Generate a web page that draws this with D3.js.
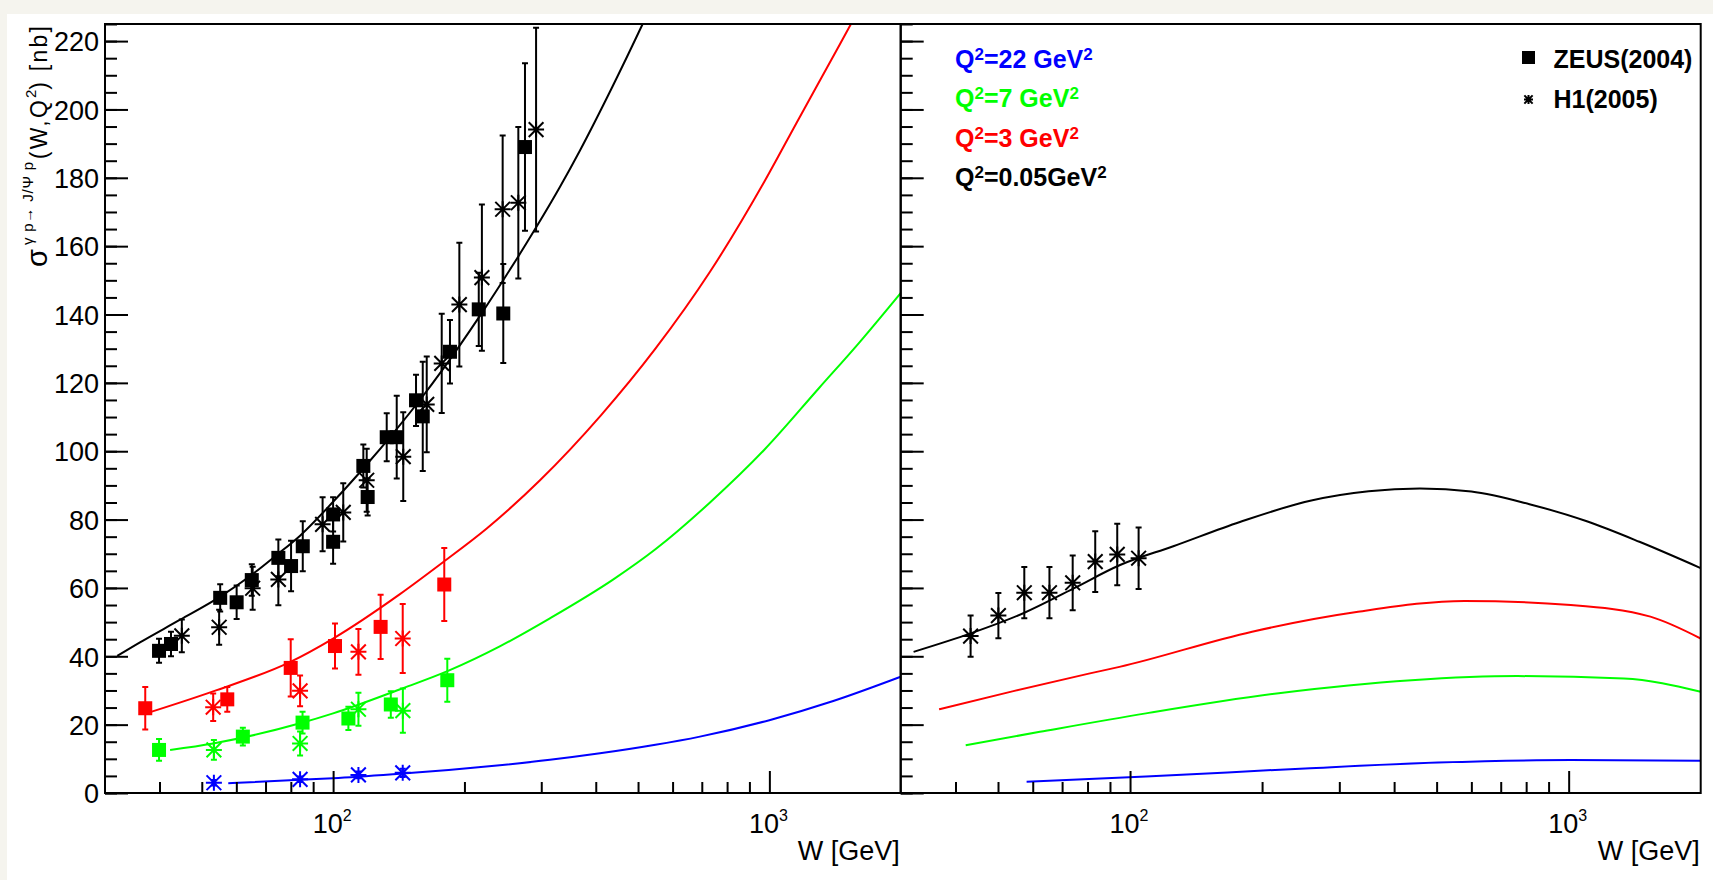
<!DOCTYPE html>
<html>
<head>
<meta charset="utf-8">
<title>J/Psi production cross section</title>
<script src="https://d3js.org/d3.v7.min.js"></script>
<style>
  body { margin: 0; background: #f5f4ee; }
  svg { display: block; font-family: "Liberation Sans", Arial, sans-serif; }
</style>
</head>
<body>
<div id="chart"></div>
<script>
// ---- axis settings ----
var wRange = [30, 2000];
var sigmaRange = [0, 225];
var yMajorTicks = [0, 20, 40, 60, 80, 100, 120, 140, 160, 180, 200, 220];
var xMajorTicks = [100, 1000];
var xMajorExp = ["2", "3"];
var xMinorTicks = [40, 50, 60, 70, 80, 90, 200, 300, 400, 500, 600, 700, 800, 900];

// ---- model curves, left panel: [W, sigma] ----
var curveL_q005 = [[32,40.1],[36,44.0],[44.6,50.7],[55,57.4],[65,63.8],[74,69.5],[84,75.3],[100,85.2],[119,95.9],[137,105.1],[161,116.3],[195,130.9],[217,139.6],[245,149.9],[264,156.4],[293,165.8],[331,177.3],[368,188],[435,206.2],[511,224.7],[560,235.6]];
var curveL_q3 = [[38.4,23.8],[54.1,30.1],[79.6,38.3],[100,45.2],[142.3,58.2],[178.9,67.6],[225,77.4],[298,91.5],[411,110.5],[548,130],[731,152.5],[975,179],[1159,196.5],[1450,219],[1600,229]];
var curveL_q7 = [[42.3,12.6],[53.1,14.5],[84,20.4],[100,23.3],[142,30.3],[184,35.8],[241,42.9],[314,51.1],[439,62.5],[548,71.3],[731,85],[975,100.5],[1300,118.5],[1600,131.5],[2000,146.3]];
var curveL_q22 = [[57.5,2.85],[84,3.85],[100,4.3],[142,5.6],[184,6.7],[241,8.1],[314,9.7],[409,11.6],[548,14.1],[693,16.5],[1000,21.3],[1401,26.9],[2000,34.0]];

// ---- model curves, right panel ----
var curveR_q005 = [[32.1,41.3],[43.3,46.7],[57.1,52.6],[74.2,59.8],[94.9,66.7],[125.5,72.2],[178,79.3],[259,85.6],[350,88.3],[458,89.1],[600,88.2],[814,84.5],[1100,79.5],[1450,73.5],[2000,65.8]];
var curveR_q3 = [[36.7,24.5],[54.2,29.8],[81,35.0],[94.6,36.9],[189.8,47.2],[331,53],[579,56.2],[1011,55],[1536,51.6],[2000,45.2]];
var curveR_q7 = [[42.2,14],[62.3,17.9],[108.7,23.3],[218.3,29.2],[438,33],[765,34.2],[1336,33.5],[2000,29.6]];
var curveR_q22 = [[58.1,3.3],[108.7,4.8],[250.8,7.2],[503.6,8.9],[1011,9.65],[2000,9.45]];

// ---- data points: [W, sigma, error] ----
var zeus_q005 = [[39.9,41.6,3.5],[42.5,43.6,3.6],[55.1,57.1,4.0],[60.1,55.8,4.9],[65.1,62.3,4.6],[74.9,68.8,5.4],[80.1,66.4,7.4],[85.2,72.2,7.3],[100,81.5,5.0],[100,73.5,6.4],[117.3,95.7,6.3],[120,86.6,5.4],[132.7,104.1,7.0],[139.9,104.1,12.1],[154.9,114.9,7.5],[160.5,110.2,16],[185.3,129.1,9.3],[215.7,141.5,10.7],[245.5,140.3,14.5],[275.3,189.0,24.5]];
var h1_q005 = [[45.0,46.0,4.8],[54.8,48.5,5.1],[65.4,59.9,6.3],[74.9,62.5,7.6],[94.6,78.6,7.9],[105.5,82.1,8.5],[119.4,91.5,9.2],[144.8,98.4,13],[163.9,113.7,14],[177.4,125.7,14.5],[194.7,142.9,18.1],[219.3,150.8,21.4],[244.7,170.8,21.6],[265.8,172.7,22.2],[291.9,194.1,29.8]];
var zeus_q3 = [[37.1,24.8,6.2],[57.2,27.4,3.6],[79.95,36.6,8.4],[101,43.0,6.6],[128.5,48.6,9.4],[179.8,61.0,10.7]];
var h1_q3 = [[53.1,25.1,4.0],[84.0,29.9,4.5],[114.3,41.3,6.7],[144.4,45.2,10.1]];
var zeus_q7 = [[39.9,12.6,3.2],[62.1,16.5,2.6],[85.1,20.6,3.2],[108.4,21.8,3.4],[135.6,25.9,3.9],[182.7,33.0,6.3]];
var h1_q7 = [[53.3,12.6,2.9],[84.0,14.5,3.5],[114.3,24.5,4.8],[144.5,24.1,6.5]];
var h1_q22 = [[53.3,3.0,0.8],[84.0,4.0,0.8],[114.3,5.3,1.0],[144.4,5.9,1.2]];
var h1_q005_right = [[43.3,45.9,6.0],[50.1,51.9,6.6],[57.4,58.6,7.5],[65.5,58.6,7.5],[74.0,61.5,8.0],[83.3,67.7,8.9],[93.5,69.8,9.0],[104.6,68.7,9.0]];

// ---- legend ----
var legendQ2 = [["22 GeV", "#0000ff"], ["7 GeV", "#00ff00"], ["3 GeV", "#ff0000"], ["0.05GeV", "#000000"]];
var legendSets = [["ZEUS(2004)", "square"], ["H1(2005)", "star"]];

var BLACK = "#000000", RED = "#ff0000", GREEN = "#00ff00", BLUE = "#0000ff";

var panels = [
  { x0: 105, x1: 900.7, labels: true,
    curves: [[curveL_q22, BLUE], [curveL_q7, GREEN], [curveL_q3, RED], [curveL_q005, BLACK]],
    points: [[zeus_q005, BLACK, "square"], [h1_q005, BLACK, "star"],
             [zeus_q3, RED, "square"], [h1_q3, RED, "star"],
             [zeus_q7, GREEN, "square"], [h1_q7, GREEN, "star"],
             [h1_q22, BLUE, "star"]] },
  { x0: 900.7, x1: 1700.7, labels: false,
    curves: [[curveR_q22, BLUE], [curveR_q7, GREEN], [curveR_q3, RED], [curveR_q005, BLACK]],
    points: [[h1_q005_right, BLACK, "star"]] }
];

var yTop = 24, yBot = 793;

var svg = d3.select("#chart").append("svg")
    .attr("width", 1713).attr("height", 880);

svg.append("rect").attr("width", 1713).attr("height", 880).attr("fill", "#f5f4ee");
svg.append("rect").attr("x", 7).attr("y", 14).attr("width", 1706).attr("height", 866).attr("fill", "#ffffff");

function starPath(cx, cy, r) {
  var d = r * 0.92;
  return "M" + (cx - r) + "," + cy + "H" + (cx + r) +
         "M" + cx + "," + (cy - r) + "V" + (cy + r) +
         "M" + (cx - d) + "," + (cy - d) + "L" + (cx + d) + "," + (cy + d) +
         "M" + (cx - d) + "," + (cy + d) + "L" + (cx + d) + "," + (cy - d);
}

panels.forEach(function (p, i) {
  var x = d3.scaleLog().domain(wRange).range([p.x0, p.x1]);
  var y = d3.scaleLinear().domain(sigmaRange).range([yBot, yTop]);
  var g = svg.append("g");

  var clipId = "clip" + i;
  svg.append("clipPath").attr("id", clipId)
    .append("rect").attr("x", p.x0).attr("y", yTop)
    .attr("width", p.x1 - p.x0).attr("height", yBot - yTop);

  var line = d3.line()
      .x(function (d) { return x(d[0]); })
      .y(function (d) { return y(d[1]); })
      .curve(d3.curveMonotoneX);

  // model curves
  g.append("g").attr("clip-path", "url(#" + clipId + ")")
    .selectAll("path").data(p.curves).enter().append("path")
    .attr("d", function (c) { return line(c[0]); })
    .attr("fill", "none")
    .attr("stroke", function (c) { return c[1]; })
    .attr("stroke-width", 2);

  // measurements
  p.points.forEach(function (s) {
    var sg = g.append("g").attr("stroke", s[1]).attr("fill", s[1]);
    var pts = sg.selectAll("g.pt").data(s[0]).enter().append("g").attr("class", "pt");
    pts.append("path")
      .attr("d", function (d) {
        var cx = x(d[0]), y1 = y(d[1] + d[2]), y2 = y(d[1] - d[2]);
        return "M" + cx + "," + y1 + "V" + y2 +
               "M" + (cx - 3) + "," + y1 + "H" + (cx + 3) +
               "M" + (cx - 3) + "," + y2 + "H" + (cx + 3);
      })
      .attr("stroke-width", 2).attr("fill", "none");
    if (s[2] === "square") {
      pts.append("rect")
        .attr("x", function (d) { return x(d[0]) - 7; })
        .attr("y", function (d) { return y(d[1]) - 7; })
        .attr("width", 14).attr("height", 14)
        .attr("stroke", "none");
    } else {
      pts.append("path")
        .attr("d", function (d) { return starPath(x(d[0]), y(d[1]), 8); })
        .attr("stroke-width", 2).attr("fill", "none");
    }
  });

  // y axis ticks (inside) with labels on the left panel only
  var yAxis = d3.axisLeft(y).tickValues(yMajorTicks).tickSize(-23).tickPadding(6)
      .tickFormat(p.labels ? d3.format("d") : function () { return ""; });
  var ya = svg.append("g").attr("transform", "translate(" + p.x0 + ",0)").call(yAxis);
  var yMinor = d3.axisLeft(y).tickValues(d3.range(0, 226, 5)).tickSize(-12).tickFormat("");
  var ym = svg.append("g").attr("transform", "translate(" + p.x0 + ",0)").call(yMinor);

  // x axis ticks (pointing up)
  var xAxis = d3.axisBottom(x).tickValues(xMajorTicks).tickSize(-22).tickFormat("");
  var xa = svg.append("g").attr("transform", "translate(0," + yBot + ")").call(xAxis);
  var xMinor = d3.axisBottom(x).tickValues(xMinorTicks).tickSize(-11).tickFormat("");
  var xm = svg.append("g").attr("transform", "translate(0," + yBot + ")").call(xMinor);

  [ya, ym, xa, xm].forEach(function (a) {
    a.select(".domain").remove();
    a.selectAll("line").attr("stroke", "#000").attr("stroke-width", 2);
  });
  ya.selectAll("text").attr("font-size", 27).attr("dy", "0.36em").attr("fill", "#000")
    .attr("font-family", "Liberation Sans, Arial, sans-serif");

  // 10^n labels
  var lab = svg.append("g");
  xMajorTicks.forEach(function (t, k) {
    var txt = lab.append("text").attr("x", x(t) - 1).attr("y", 833)
      .attr("text-anchor", "middle").attr("font-size", 27);
    txt.append("tspan").text("10");
    txt.append("tspan").attr("font-size", 16).attr("dy", -12).text(xMajorExp[k]);
  });

  // x title
  svg.append("text").attr("x", p.x1 - 1).attr("y", 860)
    .attr("text-anchor", "end").attr("font-size", 27).text("W [GeV]");

  // frame
  svg.append("rect").attr("x", p.x0).attr("y", yTop)
    .attr("width", p.x1 - p.x0).attr("height", yBot - yTop)
    .attr("fill", "none").attr("stroke", "#000").attr("stroke-width", 2);
});

// y axis title
var yt = svg.append("text").attr("transform", "translate(46.5,24) rotate(-90)")
  .attr("text-anchor", "end");
yt.append("tspan").attr("font-size", 29).text("σ");
yt.append("tspan").attr("font-size", 15).attr("dy", -14).attr("dx", 4)
  .attr("letter-spacing", 0.8).text("γ p→ J/Ψ p");
yt.append("tspan").attr("font-size", 23).attr("dy", 14).attr("dx", 2).attr("letter-spacing", 2.2).text("(W,Q");
yt.append("tspan").attr("font-size", 15).attr("dy", -11).text("2");
yt.append("tspan").attr("font-size", 23).attr("dy", 11).attr("letter-spacing", 2.2).text(") [nb]");

// Q^2 legend
legendQ2.forEach(function (l, k) {
  var t = svg.append("text").attr("x", 955).attr("y", 67.7 + k * 39.4)
    .attr("font-size", 25).attr("font-weight", "bold").attr("fill", l[1]);
  t.append("tspan").text("Q");
  t.append("tspan").attr("font-size", 17).attr("dy", -8).text("2");
  t.append("tspan").attr("dy", 8).text("=" + l[0]);
  t.append("tspan").attr("font-size", 17).attr("dy", -8).text("2");
});

// experiment legend
legendSets.forEach(function (l, k) {
  var cy = 57.5 + k * 41;
  if (l[1] === "square") {
    svg.append("rect").attr("x", 1522).attr("y", cy - 6.5).attr("width", 13).attr("height", 13).attr("fill", "#000");
  } else {
    svg.append("path").attr("d", starPath(1528.5, cy + 1, 4.5)).attr("stroke", "#000").attr("stroke-width", 2);
  }
  svg.append("text").attr("x", 1553.5).attr("y", 68 + k * 40.3)
    .attr("font-size", 25).attr("font-weight", "bold").text(l[0]);
});
</script>
</body>
</html>
